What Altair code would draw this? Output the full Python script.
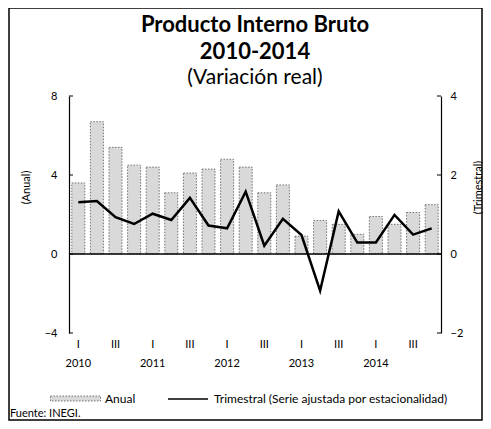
import altair as alt
import pandas as pd

# ---- data ----
years = ["2010", "2011", "2012", "2013", "2014"]
quarters = ["I", "II", "III", "IV"]
periodos = [f"{y} {q}" for y in years for q in quarters]
anual = [3.6, 6.7, 5.4, 4.5, 4.4, 3.1, 4.1, 4.3, 4.8, 4.4,
         3.1, 3.5, 0.9, 1.7, 1.5, 1.0, 1.9, 1.5, 2.1, 2.5]
trimestral = [1.31, 1.34, 0.93, 0.76, 1.02, 0.86, 1.42, 0.72, 0.65, 1.58,
              0.21, 0.89, 0.48, -0.93, 1.08, 0.29, 0.29, 0.99, 0.49, 0.65]
ticks_izq = [-4, 0, 4, 8]
ticks_der = [-2, 0, 2, 4]
serie_barras = "Anual"
serie_linea = "Trimestral (Serie ajustada por estacionalidad)"
fuente = "Fuente: INEGI."
titulo = ["Producto Interno Bruto", "2010-2014"]
subtitulo = "(Variación real)"

df = pd.DataFrame({"periodo": periodos, "anual": anual, "trimestral": trimestral,
                   "s1": serie_barras, "s2": serie_linea})
df_ti = pd.DataFrame({"v": ticks_izq})
df_td = pd.DataFrame({"v": ticks_der})
df_f = pd.DataFrame({"t": [fuente]})

FONT = "Lato"
W, H = 372, 237

dom_izq = [-4, 8]
dom_der = [-2, 4]

label_expr = ("split(datum.value,' ')[1] == 'I' ? ['I', split(datum.value,' ')[0]] : "
              "(split(datum.value,' ')[1] == 'III' ? 'III' : '')")

xenc = alt.X("periodo:N", sort=periodos,
             scale=alt.Scale(paddingInner=0.3, paddingOuter=0.15),
             axis=alt.Axis(title=None, labelAngle=0, domain=False, ticks=False,
                           labelExpr=label_expr, labelPadding=5, labelLineHeight=19,
                           labelFontSize=11, labelBaseline="top"))

bars = alt.Chart(df).mark_bar(stroke="#555555", strokeWidth=0.8, strokeDash=[1.5, 1.5]).encode(
    x=xenc,
    y=alt.Y("anual:Q", scale=alt.Scale(domain=dom_izq, nice=False),
            axis=alt.Axis(orient="left", values=ticks_izq, ticks=False, grid=False,
                          labelPadding=12, labelFontSize=11, title="(Anual)",
                          titleFontSize=11, titleFontWeight="normal", titleAngle=270,
                          titleX=-43, titleY=91, titleBaseline="middle", titleAlign="center")),
    fill=alt.Fill("s1:N", scale=alt.Scale(domain=[serie_barras], range=["#d9d9d9"]),
                  legend=alt.Legend(title=None, orient="none", legendX=-19, legendY=277,
                                    symbolType="M-1,-0.1H1V0.1H-1Z", symbolSize=2500,
                                    symbolStrokeColor="#555555", symbolStrokeWidth=0.8,
                                    symbolDash=[1.5, 1.5], labelFontSize=12,
                                    labelOffset=4, labelLimit=400)),
)

zero = alt.Chart(df_f).mark_rule(color="black", strokeWidth=1.5).encode(
    y=alt.YDatum(0, scale=alt.Scale(domain=dom_izq, nice=False), axis=None)
)

lticks = alt.Chart(df_ti).mark_rule(color="black", strokeWidth=1).encode(
    y=alt.Y("v:Q", scale=alt.Scale(domain=dom_izq, nice=False), axis=None),
    x=alt.value(0), x2=alt.value(4),
)

line = alt.Chart(df).mark_line(strokeWidth=2.5).encode(
    x=xenc,
    y=alt.Y("trimestral:Q", scale=alt.Scale(domain=dom_der, nice=False),
            axis=alt.Axis(orient="right", values=ticks_der, ticks=False, grid=False,
                          labelPadding=9, labelFontSize=11, title="(Trimestral)",
                          titleFontSize=11, titleFontWeight="normal", titleAngle=270,
                          titleX=37, titleY=91, titleBaseline="middle", titleAlign="center")),
    stroke=alt.Stroke("s2:N", scale=alt.Scale(domain=[serie_linea], range=["black"]),
                      legend=alt.Legend(title=None, orient="none", legendX=98, legendY=282,
                                        symbolType="stroke", symbolSize=1600,
                                        symbolStrokeWidth=1.5, labelFontSize=12,
                                        labelOffset=5, labelLimit=400)),
)

rticks = alt.Chart(df_td).mark_rule(color="black", strokeWidth=1).encode(
    y=alt.Y("v:Q", scale=alt.Scale(domain=dom_der, nice=False), axis=None),
    x=alt.value(W - 4), x2=alt.value(W),
)

src = alt.Chart(df_f).mark_text(align="left", baseline="bottom", fontSize=11,
                                font=FONT, color="black").encode(
    text="t:N", x=alt.value(-59), y=alt.value(323)
)

frame = alt.Chart(df_f).mark_rect(fillOpacity=0, stroke="black", strokeWidth=1.5).encode(
    x=alt.value(-60), x2=alt.value(413), y=alt.value(-88), y2=alt.value(324)
)

chart = alt.layer(frame, bars, zero, lticks, line, rticks, src).resolve_scale(
    y="independent", fill="independent", stroke="independent"
).properties(
    width=W, height=H,
    autosize=alt.AutoSizeParams(type="none"),
    padding={"left": 61, "top": 88, "right": 42, "bottom": 88},
    title=alt.TitleParams(text=titulo, subtitle=subtitulo, anchor="middle", frame="group",
                          font=FONT, fontSize=22, fontWeight="bold", lineHeight=27.5,
                          color="black", subtitleFont=FONT, subtitleFontSize=21,
                          subtitleColor="black", subtitlePadding=3, offset=-82),
).configure_view(stroke=None).configure_axis(
    labelFont=FONT, titleFont=FONT, labelColor="black", titleColor="black",
    domainColor="black", domainWidth=1.2
).configure_legend(labelFont=FONT, labelColor="black")

chart.save("out.html", embed_options={"renderer": "svg", "actions": False})
